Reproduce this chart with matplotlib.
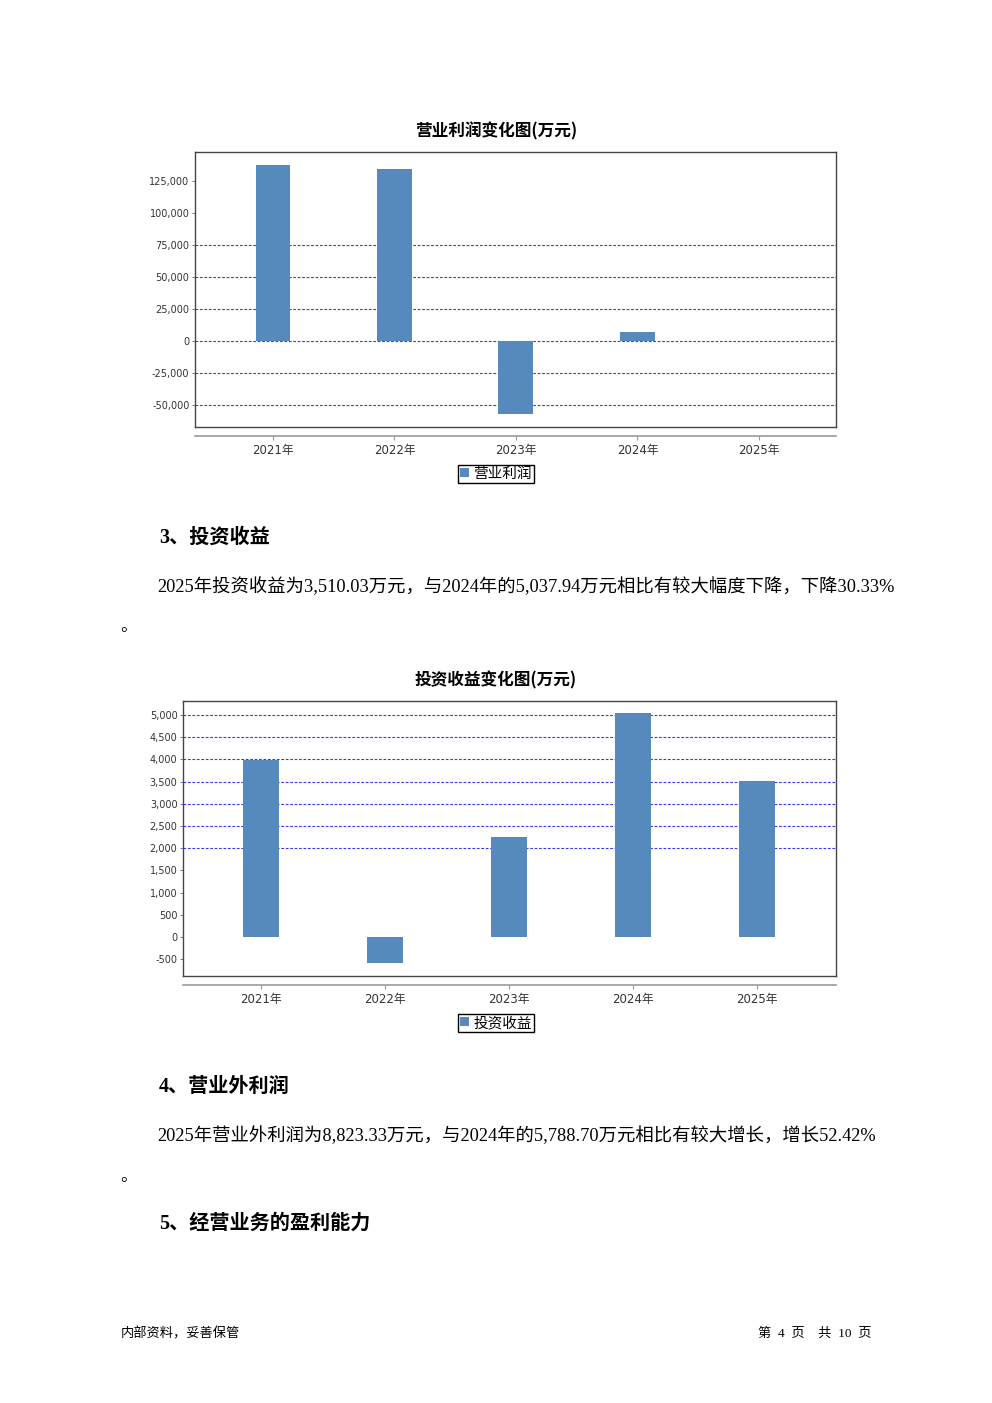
import matplotlib
matplotlib.use("Agg")
import matplotlib.pyplot as plt
from matplotlib.patches import Patch

W, H = 992, 1403

# ---------------- data ----------------
years = ["2021年", "2022年", "2023年", "2024年", "2025年"]
op_profit = [137500, 134500, -57000, 7000, 0]
op_ticks = [-50000, -25000, 0, 25000, 50000, 75000, 100000, 125000]
op_grid = [-50000, -25000, 0, 25000, 50000, 75000]
inv_income = [3990, -590, 2250, 5037.94, 3510.03]
inv_ticks = [-500, 0, 500, 1000, 1500, 2000, 2500, 3000, 3500, 4000, 4500, 5000]
inv_grid = [2000, 2500, 3000, 3500, 4000, 4500, 5000]

title1 = "营业利润变化图(万元)"
title2 = "投资收益变化图(万元)"
legend1 = "营业利润"
legend2 = "投资收益"
head3 = "3、投资收益"
para3 = "2025年投资收益为3,510.03万元，与2024年的5,037.94万元相比有较大幅度下降，下降30.33%"
head4 = "4、营业外利润"
para4 = "2025年营业外利润为8,823.33万元，与2024年的5,788.70万元相比有较大增长，增长52.42%"
head5 = "5、经营业务的盈利能力"
foot_left = "内部资料，妥善保管"
foot_right = "第  4  页    共  10  页"

BAR = "#5689BC"
GRID = "#3a3af0"
CJK = ["Noto Sans CJK SC", "DejaVu Sans"]
SERIF = ["Liberation Serif", "Noto Sans CJK SC"]
TICKF = ["DejaVu Sans", "Noto Sans CJK SC"]

fig = plt.figure(figsize=(W / 100, H / 100), dpi=100)
fig.patch.set_facecolor("white")


def rect(x0, y0, x1, y1):
    return [x0 / W, 1 - y1 / H, (x1 - x0) / W, (y1 - y0) / H]


def fy(y):
    return 1 - y / H


def fx(x):
    return x / W


def chart(box, xlim, ylim, values, ticks, grid, axis_y, title, title_y, legend, legend_y, barw):
    x0, y0, x1, y1 = box
    ax = fig.add_axes(rect(x0, y0, x1, y1))
    pos = list(range(len(values)))
    for g in grid:
        ax.axhline(g, color=GRID, lw=0.8, ls=(0, (2.5, 1.5)), zorder=1)
    ax.bar(pos, values, width=barw, color=BAR, zorder=2)
    ax.set_xlim(*xlim)
    ax.set_ylim(*ylim)
    ax.set_yticks(ticks)
    ax.set_yticklabels([f"{t:,}" for t in ticks], fontsize=7, color="#333333")
    for lbl in ax.get_yticklabels():
        lbl.set_fontfamily(TICKF)
    ax.tick_params(axis="y", length=2, width=0.6, pad=2, color="#666666")
    ax.set_xticks([])
    for s in ax.spines.values():
        s.set_color("#444444")
        s.set_linewidth(1.0)

    # separate category axis below plot
    ax2 = fig.add_axes(rect(x0, axis_y - 1, x1, axis_y))
    ax2.set_facecolor("none")
    for k in ("top", "left", "right"):
        ax2.spines[k].set_visible(False)
    ax2.spines["bottom"].set_color("#999999")
    ax2.spines["bottom"].set_linewidth(1.2)
    ax2.set_yticks([])
    ax2.set_xlim(*xlim)
    ax2.set_xticks(pos)
    ax2.set_xticklabels(years, fontsize=8.5, color="#333333")
    for lbl in ax2.get_xticklabels():
        lbl.set_fontfamily(TICKF)
    ax2.tick_params(axis="x", length=3, width=0.8, color="#999999", pad=3)

    fig.text(fx(496), fy(title_y), title, ha="center", va="center",
             fontsize=12, fontweight="bold", family=CJK)
    fig.legend(handles=[Patch(facecolor=BAR, edgecolor="none", label=legend)],
               loc="center", bbox_to_anchor=(fx(496), fy(legend_y)),
               prop={"family": CJK, "size": 10.5}, frameon=True, fancybox=False,
               edgecolor="black", framealpha=1, handlelength=0.6, handleheight=0.6,
               handletextpad=0.3, borderpad=0.15, borderaxespad=0)
    return ax


chart((195, 152, 836, 427), (-0.642, 4.634), (-67187, 147656), op_profit,
      op_ticks, op_grid, 436, title1, 131, legend1, 474, 0.288)
chart((183, 701, 836, 976), (-0.629, 4.637), (-878, 5315), inv_income,
      inv_ticks, inv_grid, 985, title2, 680, legend2, 1023, 0.29)

# headings & paragraphs
fig.text(fx(159), fy(538), head3, ha="left", va="center", fontsize=14.5,
         fontweight="bold", family=SERIF)
fig.text(fx(157), fy(587), para3, ha="left", va="center", fontsize=13.2,
         family=SERIF)
fig.text(fx(120), fy(627), "。", ha="left", va="center", fontsize=12, family=SERIF)

fig.text(fx(159), fy(1087), head4, ha="left", va="center", fontsize=14.5,
         fontweight="bold", family=SERIF)
fig.text(fx(157), fy(1136), para4, ha="left", va="center", fontsize=13.2,
         family=SERIF)
fig.text(fx(120), fy(1177), "。", ha="left", va="center", fontsize=12, family=SERIF)

fig.text(fx(159), fy(1224), head5, ha="left", va="center", fontsize=14.5,
         fontweight="bold", family=SERIF)

fig.text(fx(121), fy(1334), foot_left, ha="left", va="center", fontsize=9.5,
         family=CJK)
fig.text(fx(872), fy(1334), foot_right, ha="right", va="center", fontsize=9.5,
         family=SERIF)

fig.savefig("out.png", dpi=100, facecolor="white")
